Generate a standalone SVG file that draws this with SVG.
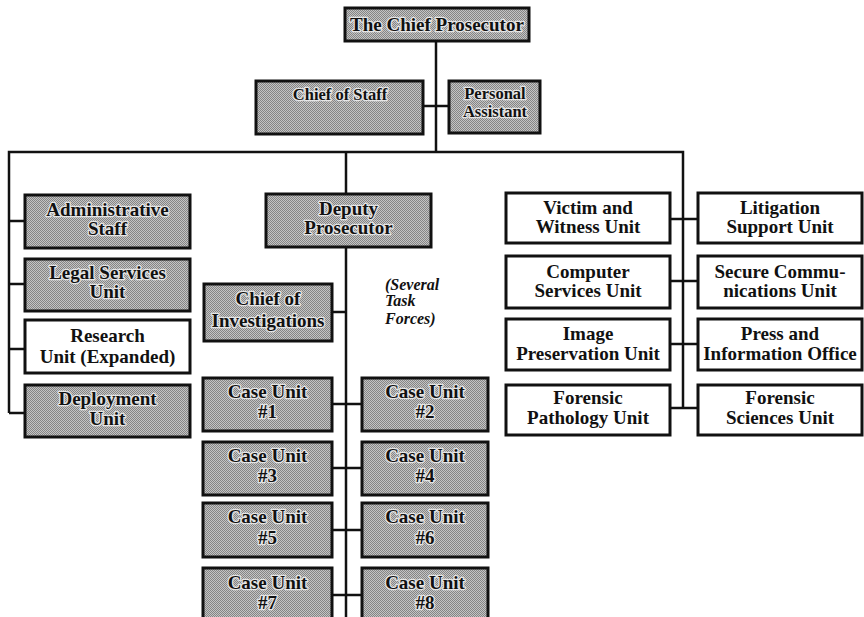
<svg xmlns="http://www.w3.org/2000/svg" width="864" height="617" viewBox="0 0 864 617">
  <defs>
    <!-- halftone screen used for shaded offices -->
    <pattern id="screen" width="2" height="2" patternUnits="userSpaceOnUse">
      <rect width="2" height="2" fill="#c4c4c4"/>
      <rect x="0" y="0" width="1" height="1" fill="#858585"/>
      <rect x="1" y="1" width="1" height="1" fill="#858585"/>
    </pattern>
    <style>
      .box { stroke: #111; stroke-width: 3; }
      .shade { fill: url(#screen); }
      .plain { fill: #fff; }
      .lines { fill: none; stroke: #111; stroke-width: 2.5; }
      text { font-family: "Liberation Serif", "DejaVu Serif", serif; font-weight: bold; text-anchor: middle; fill: #111; }
      .big { font-size: 19px; }
      .mid { font-size: 16.5px; }
      .halo { stroke: #e6e6e6; stroke-width: 2.5; paint-order: stroke; stroke-linejoin: round; }
      .note { font-style: italic; font-size: 16px; text-anchor: start; }
    </style>
  </defs>

  <rect width="864" height="617" fill="#fff"/>

  <!-- connectors -->
  <g id="connectors" class="lines">
    <path d="M436,41 V152"/>
    <path d="M423,106 H449"/>
    <path d="M9,413 V152 H683 V408"/>
    <path d="M346,152 V617"/>
    <path d="M9,221 H25 M9,284 H25 M9,349 H25 M9,413 H25"/>
    <path d="M332,312 H346"/>
    <path d="M332,404 H362 M332,468 H362 M332,530 H362 M332,595 H362"/>
    <path d="M670,219 H698 M670,281 H698 M670,344 H698 M670,408 H698"/>
  </g>

  <!-- top of the office -->
  <g id="chief-prosecutor">
    <rect class="box shade" x="345" y="8" width="184" height="33"/>
    <text class="big halo" x="437" y="31">The Chief Prosecutor</text>
  </g>
  <g id="chief-of-staff">
    <rect class="box shade" x="256" y="81" width="167" height="53"/>
    <text class="mid halo" x="340" y="100">Chief of Staff</text>
  </g>
  <g id="personal-assistant">
    <rect class="box shade" x="449" y="81" width="91" height="52"/>
    <text class="mid halo" x="495" y="99">Personal</text>
    <text class="mid halo" x="495" y="117">Assistant</text>
  </g>

  <!-- left column -->
  <g id="administrative-staff">
    <rect class="box shade" x="25" y="195" width="165" height="53"/>
    <text class="big halo" x="107.5" y="216">Administrative</text>
    <text class="big halo" x="107.5" y="235">Staff</text>
  </g>
  <g id="legal-services">
    <rect class="box shade" x="25" y="259" width="165" height="52"/>
    <text class="big halo" x="107.5" y="279">Legal Services</text>
    <text class="big halo" x="107.5" y="298">Unit</text>
  </g>
  <g id="research-unit">
    <rect class="box plain" x="25" y="320" width="165" height="53"/>
    <text class="big" x="107.5" y="342">Research</text>
    <text class="big" x="107.5" y="363">Unit (Expanded)</text>
  </g>
  <g id="deployment-unit">
    <rect class="box shade" x="25" y="385" width="165" height="52"/>
    <text class="big halo" x="107.5" y="405">Deployment</text>
    <text class="big halo" x="107.5" y="425">Unit</text>
  </g>

  <!-- deputy branch -->
  <g id="deputy-prosecutor">
    <rect class="box shade" x="266" y="194" width="165" height="53"/>
    <text class="big halo" x="348.5" y="215">Deputy</text>
    <text class="big halo" x="348.5" y="234">Prosecutor</text>
  </g>
  <g id="chief-of-investigations">
    <rect class="box shade" x="204" y="284" width="128" height="57"/>
    <text class="big halo" x="268" y="305">Chief of</text>
    <text class="big halo" x="268" y="327">Investigations</text>
  </g>
  <g id="task-forces-note">
    <text class="note" x="385" y="290">(Several</text>
    <text class="note" x="385" y="306">Task</text>
    <text class="note" x="385" y="324">Forces)</text>
  </g>

  <g id="case-unit-1">
    <rect class="box shade" x="203" y="378" width="129" height="53"/>
    <text class="big halo" x="267.5" y="398">Case Unit</text>
    <text class="big halo" x="267.5" y="418">#1</text>
  </g>
  <g id="case-unit-2">
    <rect class="box shade" x="362" y="378" width="126" height="53"/>
    <text class="big halo" x="425" y="398">Case Unit</text>
    <text class="big halo" x="425" y="418">#2</text>
  </g>
  <g id="case-unit-3">
    <rect class="box shade" x="203" y="442" width="129" height="53"/>
    <text class="big halo" x="267.5" y="462">Case Unit</text>
    <text class="big halo" x="267.5" y="482">#3</text>
  </g>
  <g id="case-unit-4">
    <rect class="box shade" x="362" y="442" width="126" height="53"/>
    <text class="big halo" x="425" y="462">Case Unit</text>
    <text class="big halo" x="425" y="482">#4</text>
  </g>
  <g id="case-unit-5">
    <rect class="box shade" x="203" y="503" width="129" height="54"/>
    <text class="big halo" x="267.5" y="523">Case Unit</text>
    <text class="big halo" x="267.5" y="544">#5</text>
  </g>
  <g id="case-unit-6">
    <rect class="box shade" x="362" y="503" width="126" height="54"/>
    <text class="big halo" x="425" y="523">Case Unit</text>
    <text class="big halo" x="425" y="544">#6</text>
  </g>
  <g id="case-unit-7">
    <rect class="box shade" x="203" y="568" width="129" height="54"/>
    <text class="big halo" x="267.5" y="589">Case Unit</text>
    <text class="big halo" x="267.5" y="609">#7</text>
  </g>
  <g id="case-unit-8">
    <rect class="box shade" x="362" y="568" width="126" height="54"/>
    <text class="big halo" x="425" y="589">Case Unit</text>
    <text class="big halo" x="425" y="609">#8</text>
  </g>

  <!-- support units -->
  <g id="victim-witness">
    <rect class="box plain" x="506" y="193" width="164" height="50"/>
    <text class="big" x="588" y="214">Victim and</text>
    <text class="big" x="588" y="233">Witness Unit</text>
  </g>
  <g id="litigation-support">
    <rect class="box plain" x="698" y="193" width="164" height="50"/>
    <text class="big" x="780" y="214">Litigation</text>
    <text class="big" x="780" y="233">Support Unit</text>
  </g>
  <g id="computer-services">
    <rect class="box plain" x="506" y="256" width="164" height="52"/>
    <text class="big" x="588" y="278">Computer</text>
    <text class="big" x="588" y="297">Services Unit</text>
  </g>
  <g id="secure-communications">
    <rect class="box plain" x="698" y="256" width="164" height="52"/>
    <text class="big" x="780" y="278">Secure Commu-</text>
    <text class="big" x="780" y="297">nications Unit</text>
  </g>
  <g id="image-preservation">
    <rect class="box plain" x="506" y="319" width="164" height="51"/>
    <text class="big" x="588" y="340">Image</text>
    <text class="big" x="588" y="360">Preservation Unit</text>
  </g>
  <g id="press-information">
    <rect class="box plain" x="698" y="319" width="164" height="51"/>
    <text class="big" x="780" y="340">Press and</text>
    <text class="big" x="780" y="360">Information Office</text>
  </g>
  <g id="forensic-pathology">
    <rect class="box plain" x="506" y="385" width="164" height="50"/>
    <text class="big" x="588" y="404">Forensic</text>
    <text class="big" x="588" y="424">Pathology Unit</text>
  </g>
  <g id="forensic-sciences">
    <rect class="box plain" x="698" y="385" width="164" height="50"/>
    <text class="big" x="780" y="404">Forensic</text>
    <text class="big" x="780" y="424">Sciences Unit</text>
  </g>
</svg>
